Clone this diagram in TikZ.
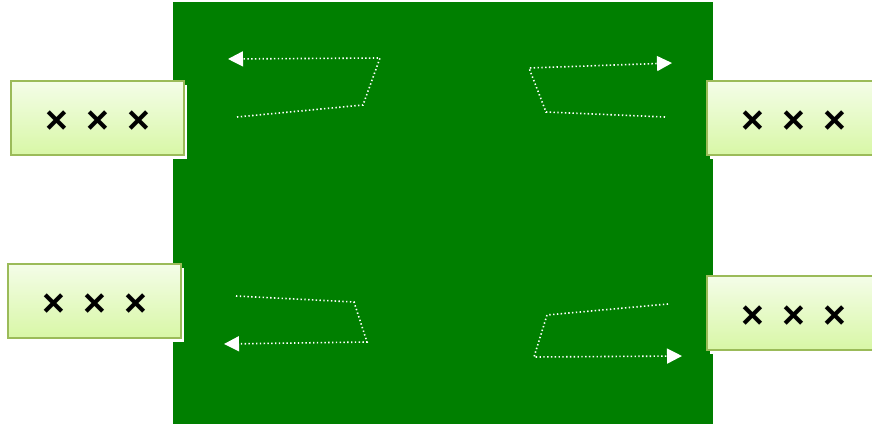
\documentclass[tikz,border=0pt]{standalone}
\usepackage{fontspec}
\setmainfont{Liberation Sans}
\usepackage{tikz}
\usetikzlibrary{arrows.meta,positioning,shadows}
\definecolor{bggreen}{HTML}{007F00}
\definecolor{boxtop}{HTML}{F4FDE8}
\definecolor{boxbot}{HTML}{D8F7A6}
\definecolor{boxline}{HTML}{9BBB59}
\tikzset{
  >=Triangle,
  tag/.style={rectangle, draw=boxline, line width=1.2pt, top color=boxtop, bottom color=boxbot,
    minimum width=173, minimum height=74, inner sep=0pt,
    drop shadow={fill=white, opacity=1, shadow xshift=3pt, shadow yshift=-4pt}},
  flow/.style={-{Triangle[length=15pt,width=15pt]}, white, line width=1.6pt, dash pattern=on 1.4pt off 2.4pt}
}
\newcommand{\crosses}{\rule{0pt}{30pt}\fontsize{39}{39}\selectfont\bfseries\makebox[41pt]{×}\makebox[41pt]{×}\makebox[41pt]{×}}

\begin{document}
\begin{tikzpicture}[x=1pt, y=-1pt]
    \useasboundingbox (0,0) rectangle (872,428);
    \fill[bggreen] (173,2) rectangle (713,424);

    \node[tag] (lefttop) at (97.5,118) {\crosses};
    \node[tag] (leftbot) at (94.5,301) {\crosses};
    \node[tag] (righttop) at (793.5,118) {\crosses};
    \node[tag] (rightbot) at (793.5,313) {\crosses};

    % loops inside the board
    \coordinate (a0) at (237,117); \coordinate (a1) at (363,105);
    \coordinate (a2) at (380,58);  \coordinate (a3) at (228,59);
    \coordinate (b0) at (665,117); \coordinate (b1) at (546,112);
    \coordinate (b2) at (529,68);  \coordinate (b3) at (672,63);
    \coordinate (c0) at (236,296); \coordinate (c1) at (354,302);
    \coordinate (c2) at (367,342); \coordinate (c3) at (224,344);
    \coordinate (d0) at (668,304); \coordinate (d1) at (547,315);
    \coordinate (d2) at (534,357); \coordinate (d3) at (682,356);

    \draw[flow] (a0) -- (a1) -- (a2) -- (a3);
    \draw[flow] (b0) -- (b1) -- (b2) -- (b3);
    \draw[flow] (c0) -- (c1) -- (c2) -- (c3);
    \draw[flow] (d0) -- (d1) -- (d2) -- (d3);
\end{tikzpicture}
\end{document}
